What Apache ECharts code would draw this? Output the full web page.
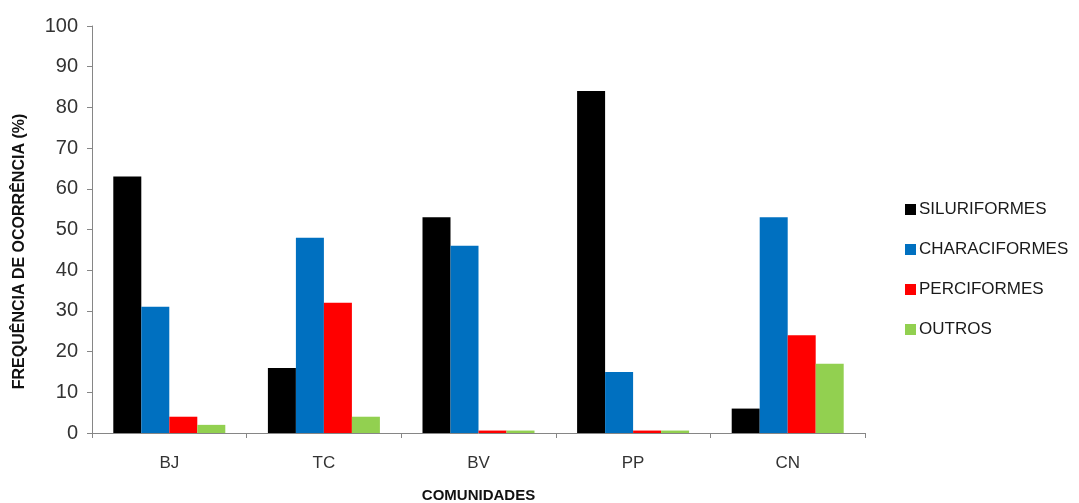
<!DOCTYPE html>
<html>
<head>
<meta charset="utf-8">
<script src="https://cdn.jsdelivr.net/npm/echarts@6/dist/echarts.min.js"></script>
<style>
  html, body { margin: 0; padding: 0; background: #fff; }
  #chart { width: 1079px; height: 503px; }
</style>
</head>
<body>
<div id="chart"></div>
<script>
var categories = ['BJ', 'TC', 'BV', 'PP', 'CN'];
var seriesNames = ['SILURIFORMES', 'CHARACIFORMES', 'PERCIFORMES', 'OUTROS'];
var siluriformes = [63, 16, 53, 84, 6];
var characiformes = [31, 48, 46, 15, 53];
var perciformes = [4, 32, 0.6, 0.6, 24];
var outros = [2, 4, 0.6, 0.6, 17];
var colorArr = ['#000000', '#0070c0', '#ff0000', '#92d050'];

var fontName = 'Liberation Sans';
var myChart = echarts.init(document.getElementById('chart'));

function bar(name, data) {
  return {
    name: name,
    type: 'bar',
    data: data,
    barWidth: 28,
    barGap: '0%',
    barCategoryGap: '28%'
  };
}

var option = {
  color: colorArr,
  backgroundColor: '#fff',
  animation: false,
  textStyle: { fontFamily: fontName },
  grid: { left: 92, right: 214, top: 26, bottom: 70, containLabel: false, outerBoundsMode: 'none' },
  legend: {
    orient: 'vertical',
    left: 900,
    top: 196,
    itemWidth: 11,
    itemHeight: 11,
    itemGap: 23,
    icon: 'rect',
    data: seriesNames,
    textStyle: { fontSize: 17, color: '#1a1a1a', fontFamily: fontName, padding: [0, 0, 0, -2] }
  },
  xAxis: {
    type: 'category',
    data: categories,
    name: 'COMUNIDADES',
    nameLocation: 'middle',
    nameGap: 55,
    nameTextStyle: { fontSize: 15, fontWeight: 'bold', color: '#111' },
    axisLine: { lineStyle: { color: '#868686', width: 1 } },
    axisTick: { show: true, length: 5, lineStyle: { color: '#868686' } },
    axisLabel: { fontSize: 17, color: '#333', margin: 22 }
  },
  yAxis: {
    type: 'value',
    min: 0,
    max: 100,
    interval: 10,
    name: 'FREQUÊNCIA DE OCORRÊNCIA (%)',
    nameLocation: 'middle',
    nameGap: 64,
    nameTextStyle: { fontSize: 16, fontWeight: 'bold', color: '#111', padding: [0, 44, 0, 0] },
    axisLine: { show: true, lineStyle: { color: '#868686', width: 1 } },
    axisTick: { show: true, length: 5, lineStyle: { color: '#868686' } },
    splitLine: { show: false },
    axisLabel: { fontSize: 20, color: '#333', margin: 14 }
  },
  series: [
    bar(seriesNames[0], siluriformes),
    bar(seriesNames[1], characiformes),
    bar(seriesNames[2], perciformes),
    bar(seriesNames[3], outros)
  ]
};
myChart.setOption(option);
</script>
</body>
</html>
